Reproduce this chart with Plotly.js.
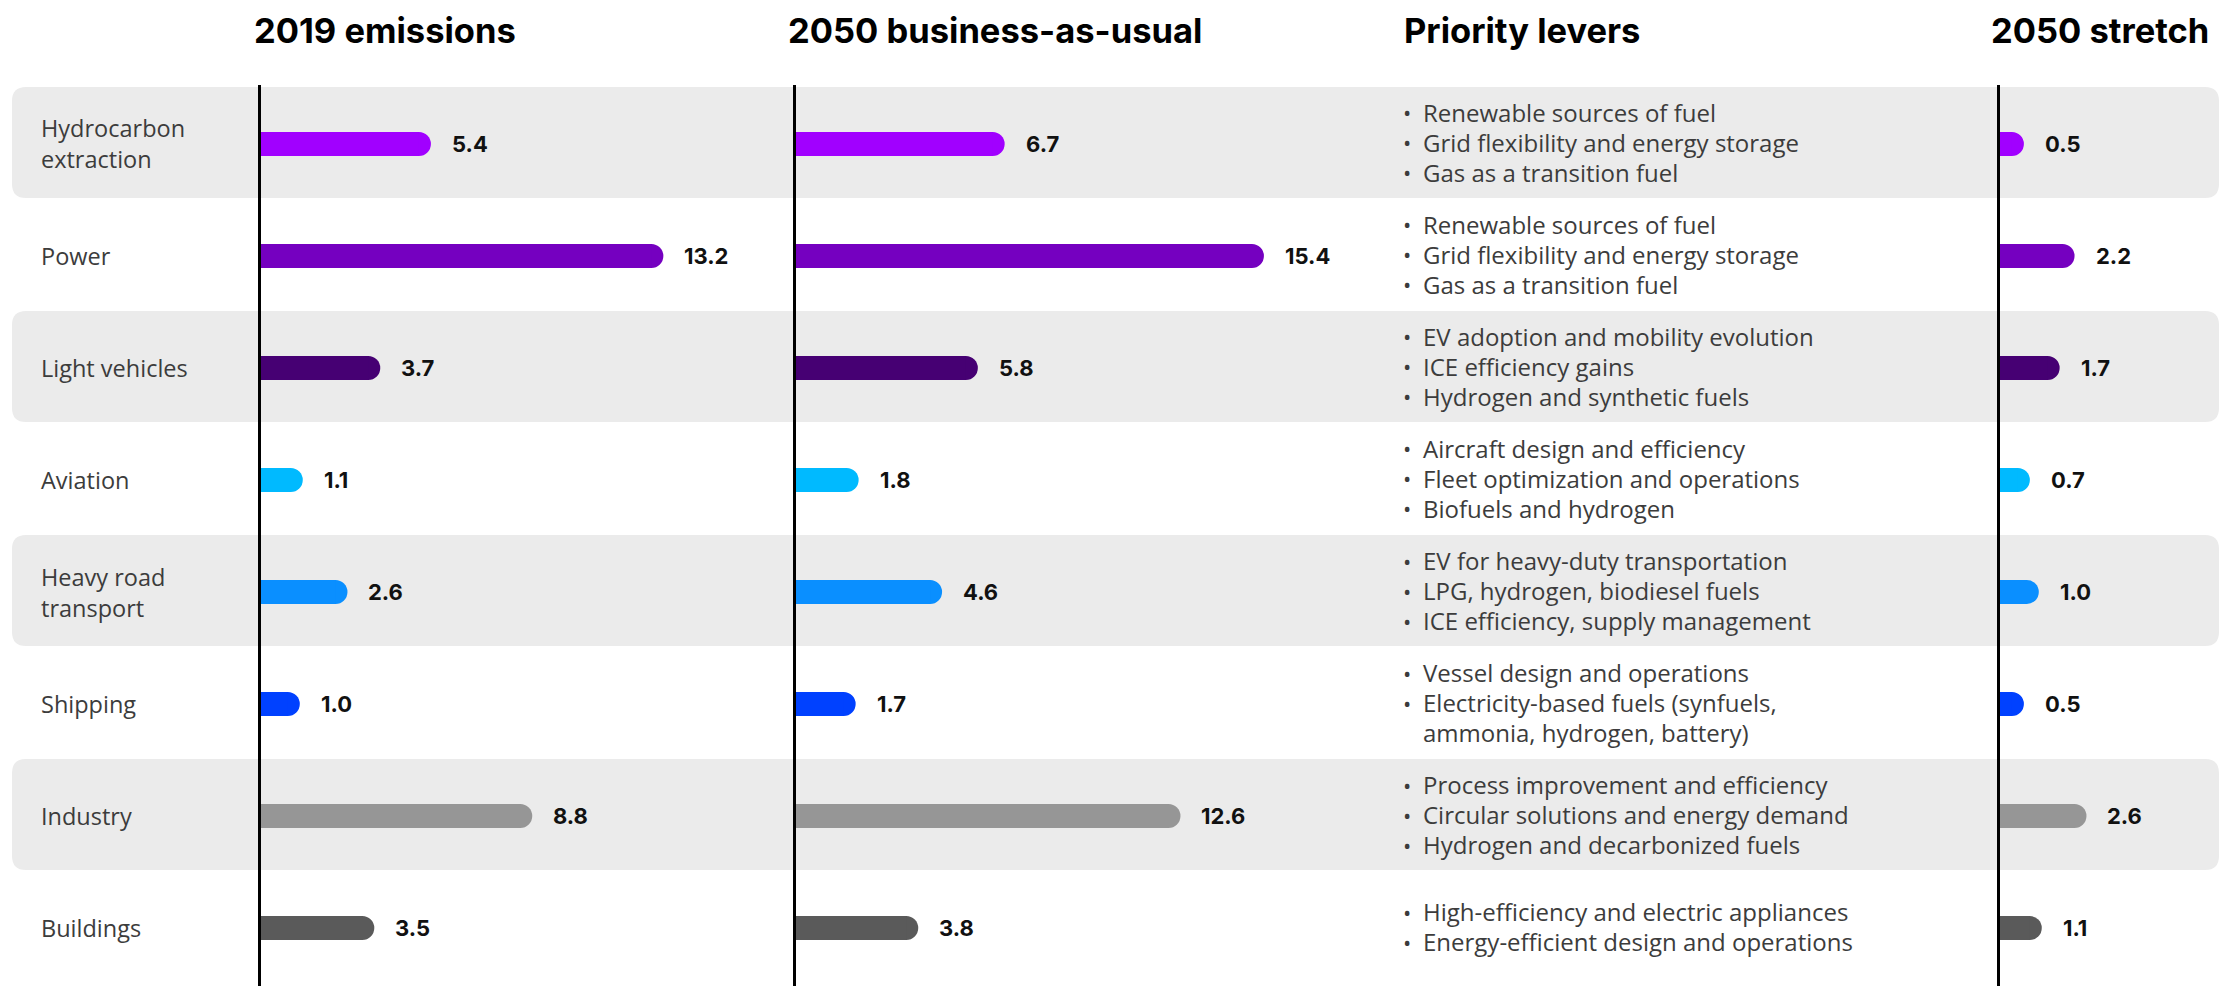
<!DOCTYPE html>
<html>
<head>
<meta charset="utf-8">
<script src="https://cdn.plot.ly/plotly-3.0.1.min.js"></script>
<style>
  html, body { margin: 0; padding: 0; background: #ffffff; }
  #chart { width: 2220px; height: 986px; }
</style>
</head>
<body>
<div id="chart"></div>
<script>
// ---------------- DATA ----------------
const categories = ['Hydrocarbon extraction', 'Power', 'Light vehicles', 'Aviation',
                    'Heavy road transport', 'Shipping', 'Industry', 'Buildings'];
const categoryLabels = ['Hydrocarbon<br>extraction', 'Power', 'Light vehicles', 'Aviation',
                        'Heavy road<br>transport', 'Shipping', 'Industry', 'Buildings'];
const emissions2019 = [5.4, 13.2, 3.7, 1.1, 2.6, 1.0, 8.8, 3.5];
const bau2050 = [6.7, 15.4, 5.8, 1.8, 4.6, 1.7, 12.6, 3.8];
const stretch2050 = [0.5, 2.2, 1.7, 0.7, 1.0, 0.5, 2.6, 1.1];
const barColors = ['#A100FF', '#7500C0', '#460073', '#00BAFF',
                   '#0A8FFF', '#0041FF', '#969696', '#5A5A5A'];
const panelTitles = ['2019 emissions', '2050 business-as-usual', 'Priority levers', '2050 stretch'];
const levers = [
  ['Renewable sources of fuel', 'Grid flexibility and energy storage', 'Gas as a transition fuel'],
  ['Renewable sources of fuel', 'Grid flexibility and energy storage', 'Gas as a transition fuel'],
  ['EV adoption and mobility evolution', 'ICE efficiency gains', 'Hydrogen and synthetic fuels'],
  ['Aircraft design and efficiency', 'Fleet optimization and operations', 'Biofuels and hydrogen'],
  ['EV for heavy-duty transportation', 'LPG, hydrogen, biodiesel fuels', 'ICE efficiency, supply management'],
  ['Vessel design and operations', 'Electricity-based fuels (synfuels,', 'ammonia, hydrogen, battery)'],
  ['Process improvement and efficiency', 'Circular solutions and energy demand', 'Hydrogen and decarbonized fuels'],
  ['High-efficiency and electric appliances', 'Energy-efficient design and operations']
];
// a lever line without its own bullet is a continuation of the previous one
const leverBullets = [
  [true, true, true], [true, true, true], [true, true, true], [true, true, true],
  [true, true, true], [true, true, false], [true, true, true], [true, true]
];
const shadedRows = [true, false, true, false, true, false, true, false];

// ---------------- LAYOUT CONSTANTS ----------------
const W = 2220, H = 986;
const PX_PER_UNIT = 29.8;
const CAP_PX = 12;           // round cap radius
const BAR_PX = 24;           // bar thickness
const ROW_TOP = 88, ROW_BOTTOM = 984;
const N = categories.length;
const ROW_PX = (ROW_BOTTOM - ROW_TOP) / N;
const LEVER_LINE_PX = 30;
const px2x = p => p / W;
const px2y = p => 1 - p / H;

const panels = [
  {axis: 'x',  key: 'xaxis',  zeroPx: 258,  range: 16, values: emissions2019},
  {axis: 'x2', key: 'xaxis2', zeroPx: 793,  range: 16, values: bau2050},
  {axis: 'x3', key: 'xaxis3', zeroPx: 1997, range: 7,  values: stretch2050}
];
const titleX = [252, 786, 1402, 1989];
const leverX = 1401;

const FONT_REG = '"Open Sans", Roboto, "Liberation Sans", sans-serif';
const FONT_BOLD = 'Inter, Roboto, "Liberation Sans", sans-serif';
const TEXT_COLOR = '#3c3c3c';

const traces = [];
const annotations = [];
const shapes = [];

const layout = {
  width: W, height: H,
  margin: {l: 0, r: 0, t: 0, b: 0, pad: 0},
  paper_bgcolor: '#ffffff',
  plot_bgcolor: 'rgba(0,0,0,0)',
  showlegend: false,
  barmode: 'overlay',
  hovermode: false,
  yaxis: {
    type: 'category', categoryorder: 'array', categoryarray: categories,
    range: [N - 0.5, -0.5],
    domain: [px2y(ROW_BOTTOM), px2y(ROW_TOP)],
    visible: false, fixedrange: true
  }
};

const capUnits = CAP_PX / PX_PER_UNIT;
const barWidthCat = BAR_PX / ROW_PX;

panels.forEach(p => {
  const domEnd = p.zeroPx + PX_PER_UNIT * p.range;
  layout[p.key] = {
    domain: [px2x(p.zeroPx), px2x(domEnd)],
    range: [0, p.range],
    anchor: 'y', visible: false, fixedrange: true,
    showgrid: false, zeroline: false
  };
  // rounded bar (extends by the cap radius)
  traces.push({
    type: 'bar', orientation: 'h', xaxis: p.axis, yaxis: 'y',
    y: categories, x: p.values.map(v => v + capUnits), base: 0,
    width: barWidthCat,
    marker: {color: barColors, cornerradius: CAP_PX, line: {width: 0}},
    hoverinfo: 'skip'
  });
  // square bar, to keep the axis end flat
  traces.push({
    type: 'bar', orientation: 'h', xaxis: p.axis, yaxis: 'y',
    y: categories, x: p.values, base: 0,
    width: barWidthCat,
    marker: {color: barColors, line: {width: 0}},
    hoverinfo: 'skip'
  });
  // value labels
  p.values.forEach((v, i) => {
    annotations.push({
      xref: p.axis, yref: 'y', x: v, y: categories[i],
      xanchor: 'left', yanchor: 'middle', xshift: CAP_PX + 19,
      text: '<b>' + v.toFixed(1) + '</b>', showarrow: false,
      font: {family: FONT_BOLD, size: 22, color: '#111111', weight: 800}
    });
  });
  // vertical axis line
  shapes.push({
    type: 'line', xref: p.axis, yref: 'paper', x0: 0, x1: 0,
    y0: 0, y1: px2y(85), layer: 'above',
    line: {color: '#000000', width: 6}
  });
});

// row bands
const bx0 = px2x(12), bx1 = px2x(2219), rx = px2x(14);
categories.forEach((c, i) => {
  if (!shadedRows[i]) return;
  const topPx = ROW_TOP + ROW_PX * i - 1;
  const botPx = ROW_TOP + ROW_PX * (i + 1) - 2;
  const y1 = px2y(topPx), y0 = px2y(botPx), ry = 14 / H;
  const path = `M ${bx0 + rx},${y1} L ${bx1 - rx},${y1} Q ${bx1},${y1} ${bx1},${y1 - ry} ` +
               `L ${bx1},${y0 + ry} Q ${bx1},${y0} ${bx1 - rx},${y0} ` +
               `L ${bx0 + rx},${y0} Q ${bx0},${y0} ${bx0},${y0 + ry} ` +
               `L ${bx0},${y1 - ry} Q ${bx0},${y1} ${bx0 + rx},${y1} Z`;
  shapes.push({type: 'path', xref: 'paper', yref: 'paper', path: path,
               fillcolor: '#EBEBEB', line: {width: 0}, layer: 'below'});
});

// category labels
categories.forEach((c, i) => {
  annotations.push({
    xref: 'paper', yref: 'y', x: px2x(39), y: c,
    xanchor: 'left', yanchor: 'middle', align: 'left',
    text: categoryLabels[i], showarrow: false,
    font: {family: FONT_REG, size: 23.5, color: TEXT_COLOR}
  });
});

// priority levers (one annotation per line: bullet + text)
categories.forEach((c, i) => {
  const n = levers[i].length;
  levers[i].forEach((line, j) => {
    const shift = ((n - 1) / 2 - j) * LEVER_LINE_PX + 1.5;
    if (leverBullets[i][j]) {
      annotations.push({
        xref: 'paper', yref: 'y', x: px2x(leverX), y: c, yshift: shift,
        xanchor: 'left', yanchor: 'middle', align: 'left',
        text: '•', showarrow: false,
        font: {family: FONT_REG, size: 22, color: TEXT_COLOR}
      });
    }
    annotations.push({
      xref: 'paper', yref: 'y', x: px2x(leverX + 20), y: c, yshift: shift,
      xanchor: 'left', yanchor: 'middle', align: 'left',
      text: line, showarrow: false,
      font: {family: FONT_REG, size: 24, color: TEXT_COLOR}
    });
  });
});

// panel titles
panelTitles.forEach((t, i) => {
  annotations.push({
    xref: 'paper', yref: 'paper', x: px2x(titleX[i]), y: px2y(31),
    xanchor: 'left', yanchor: 'middle',
    text: '<b>' + t + '</b>', showarrow: false,
    font: {family: FONT_BOLD, size: 34.5, color: '#000000', weight: 800}
  });
});

layout.annotations = annotations;
layout.shapes = shapes;

Plotly.newPlot('chart', traces, layout, {displayModeBar: false, staticPlot: true});
</script>
</body>
</html>
